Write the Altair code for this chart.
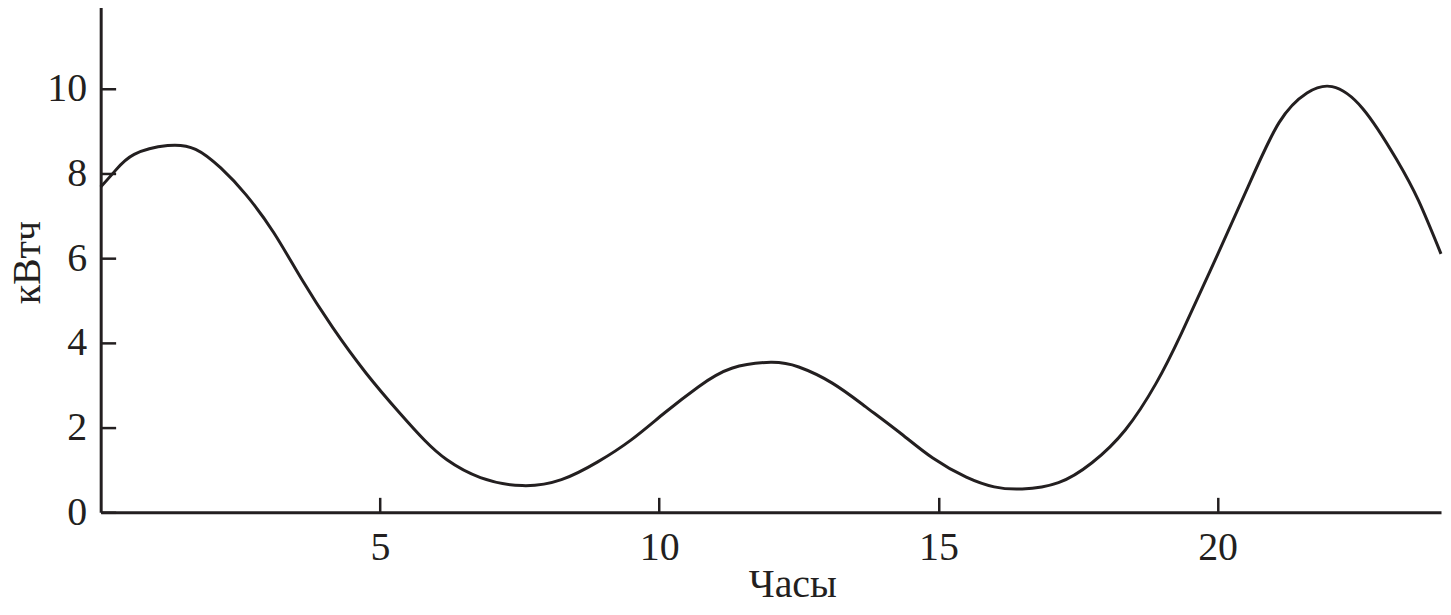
import altair as alt
import pandas as pd

# Curve readings (hour, kWh)
hours = [0, 0.25, 0.6, 1.2, 1.7, 2.15, 2.6, 3.1, 3.6, 4.15, 4.75, 5.35, 5.8, 6.2, 6.8,
         7.55, 8.25, 8.9, 9.5, 10.1, 10.7, 11.3, 12.0, 12.5, 13.1, 13.7, 14.3, 14.9,
         15.5, 16.0, 16.5, 17.15, 17.75, 18.35, 18.9, 19.35, 19.95, 20.55, 21.1,
         21.6, 22.05, 22.6, 23.2, 23.6, 24.0]
kwh = [7.68, 8.05, 8.45, 8.66, 8.57, 8.13, 7.5, 6.6, 5.5, 4.37, 3.29, 2.35, 1.7, 1.24,
       0.82, 0.63, 0.77, 1.19, 1.71, 2.35, 2.96, 3.4, 3.54, 3.43, 3.05, 2.49, 1.89,
       1.28, 0.83, 0.6, 0.55, 0.7, 1.17, 1.95, 3.05, 4.22, 5.94, 7.7, 9.2, 9.9,
       10.05, 9.53, 8.34, 7.35, 6.1]

x_ticks = [5, 10, 15, 20]
y_ticks = [0, 2, 4, 6, 8, 10]

W, H = 1345, 510
INK = "#231f20"
FONT = "Liberation Serif"

df = pd.DataFrame({"h": hours, "v": kwh})

xscale = alt.Scale(domain=[0, 24], nice=False, zero=False)
yscale = alt.Scale(domain=[0, 12], nice=False)

xaxis = alt.Axis(values=x_ticks, format="d", title="Часы",
                 tickSize={"expr": "-15"}, tickWidth=2.5, tickColor=INK,
                 labelPadding=30,
                 domainColor=INK, domainWidth=3, grid=False,
                 labelFont=FONT, labelFontSize=40, labelColor=INK,
                 titleFont=FONT, titleFontSize=40, titleColor=INK,
                 titleFontWeight="normal", titleX=694, titleY=85,
                 titleBaseline="alphabetic", titleAlign="center")
yaxis = alt.Axis(values=y_ticks, format="d", title="кВтч",
                 tickSize={"expr": "-15"}, tickWidth=2.5, tickColor=INK,
                 labelPadding=29,
                 domainColor=INK, domainWidth=3, grid=False,
                 labelFont=FONT, labelFontSize=40, labelColor=INK,
                 titleFont=FONT, titleFontSize=40, titleColor=INK,
                 titleFontWeight="normal", titleX=-61, titleY=259,
                 titleAngle=-90, titleBaseline="alphabetic",
                 titleAlign="center")

chart = alt.Chart(df).mark_line(color=INK, strokeWidth=3, interpolate="natural").encode(
    x=alt.X("h:Q", scale=xscale, axis=xaxis),
    y=alt.Y("v:Q", scale=yscale, axis=yaxis),
).properties(
    width=W, height=H,
    autosize=alt.AutoSizeParams(type="none"),
    padding={"left": 93, "top": -5, "right": 2, "bottom": 95},
    background="white",
).configure_view(stroke=None)

chart.save("out.html", embed_options={"renderer": "svg", "actions": False})
